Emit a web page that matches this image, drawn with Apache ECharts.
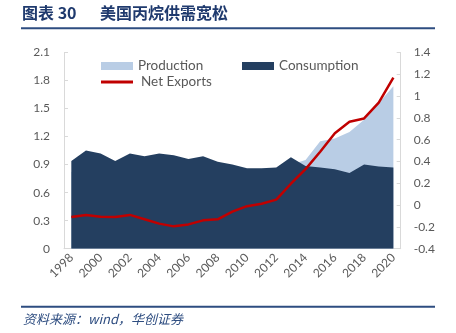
<!DOCTYPE html>
<html>
<head>
<meta charset="utf-8">
<script src="https://cdn.jsdelivr.net/npm/echarts@6/dist/echarts.min.js"></script>
<style>html,body{margin:0;padding:0;background:#fff;}#c{width:456px;height:333px;}</style>
</head>
<body>
<div id="c"></div>
<script>
var years = ['1998','1999','2000','2001','2002','2003','2004','2005','2006','2007','2008','2009','2010','2011','2012','2013','2014','2015','2016','2017','2018','2019','2020'];
var production = [0.82,0.90,0.88,0.83,0.88,0.84,0.85,0.80,0.79,0.83,0.80,0.82,0.83,0.84,0.85,0.90,0.95,1.15,1.18,1.25,1.38,1.56,1.74];
var consumption = [0.94,1.05,1.02,0.94,1.02,0.99,1.02,1.00,0.96,0.99,0.93,0.90,0.86,0.86,0.87,0.98,0.885,0.87,0.85,0.81,0.90,0.88,0.87];
var netExports = [-0.11,-0.09,-0.107,-0.11,-0.09,-0.13,-0.17,-0.195,-0.177,-0.14,-0.13,-0.06,-0.01,0.013,0.05,0.196,0.33,0.49,0.66,0.765,0.795,0.94,1.17];
var leftTicks = {min:0, max:2.1, interval:0.3};
var rightTicks = {min:-0.4, max:1.4, interval:0.2};

var chart = echarts.init(document.getElementById('c'), null, {renderer:'canvas'});
var gray = '#595959';
var axisGray = '#D9D9D9';
var font = 'Lato, "Open Sans", sans-serif';
chart.setOption({
  animation:false,
  textStyle:{fontFamily:font},
  grid:{left:64, right:55.3, top:52.5, height:196.2, containLabel:false},
  legend:[
    {data:['Production'], left:96, top:54, itemWidth:32, itemHeight:8, icon:'rect', itemGap:5,
     textStyle:{color:gray, fontSize:13.5, fontFamily:font}},
    {data:['Consumption'], left:237, top:54, itemWidth:32, itemHeight:8, icon:'rect', itemGap:5,
     textStyle:{color:gray, fontSize:13.5, fontFamily:font}},
    {data:['Net Exports'], left:96, top:70, itemWidth:32, itemHeight:3, icon:'rect', itemGap:5,
     textStyle:{color:gray, fontSize:13.5, fontFamily:font, padding:[0,0,0,3]}}
  ],
  xAxis:{type:'category', data:years, boundaryGap:true,
    axisLine:{lineStyle:{color:axisGray}}, axisTick:{show:false},
    axisLabel:{color:gray, fontSize:12, rotate:45, interval:1, margin:7, fontFamily:font}},
  yAxis:[
    {type:'value', min:leftTicks.min, max:leftTicks.max, interval:leftTicks.interval, position:'left',
     axisLine:{show:true, lineStyle:{color:axisGray}}, axisTick:{show:true, inside:true, length:4, lineStyle:{color:axisGray}},
     splitLine:{show:false}, axisLabel:{color:gray, fontSize:12, margin:14, fontFamily:font}},
    {type:'value', min:rightTicks.min, max:rightTicks.max, interval:rightTicks.interval, position:'right',
     axisLine:{show:true, lineStyle:{color:axisGray}}, axisTick:{show:true, inside:true, length:4, lineStyle:{color:axisGray}},
     splitLine:{show:false}, axisLabel:{color:gray, fontSize:12, margin:13, fontFamily:font}}
  ],
  series:[
    {name:'Production', type:'line', data:production, symbol:'none', lineStyle:{width:0},
     itemStyle:{color:'#B9CDE5'}, areaStyle:{color:'#B9CDE5', opacity:1}, z:1},
    {name:'Consumption', type:'line', data:consumption, symbol:'none', lineStyle:{width:0},
     itemStyle:{color:'#243F60'}, areaStyle:{color:'#243F60', opacity:1}, z:2},
    {name:'Net Exports', type:'line', yAxisIndex:1, data:netExports, symbol:'none',
     lineStyle:{width:2.5, color:'#C00000'}, itemStyle:{color:'#C00000'}, z:3}
  ],
  graphic:[
    {type:'text', left:22, top:5, style:{text:'图表 30', fill:'#1F3A6E', font:'bold 16px "Noto Sans CJK SC", serif'}},
    {type:'text', left:100, top:5, style:{text:'美国丙烷供需宽松', fill:'#1F3A6E', font:'bold 16px "Noto Sans CJK SC", sans-serif'}},
    {type:'rect', shape:{x:21, y:27.3, width:414, height:2}, style:{fill:'#2E4D80'}},
    {type:'rect', shape:{x:21, y:305.7, width:414, height:2}, style:{fill:'#2E4D80'}},
    {type:'text', left:23, top:313, style:{text:'资料来源：wind，华创证券', fill:'#2E4D80', font:'italic 13px "Noto Sans CJK SC", sans-serif'}}
  ]
});
</script>
</body>
</html>
